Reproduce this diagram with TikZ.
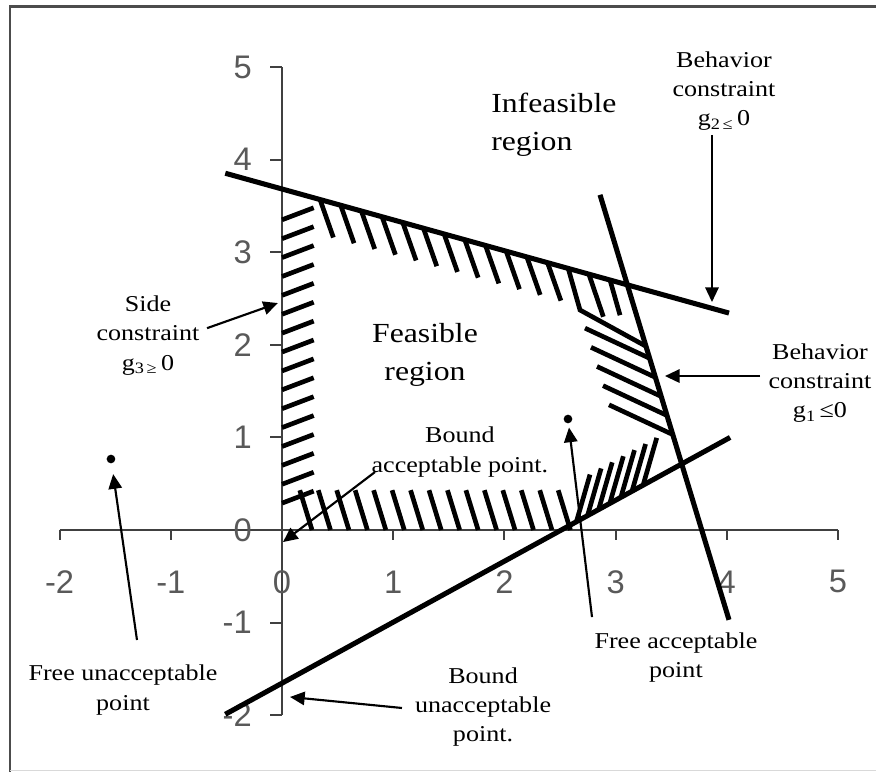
\documentclass[tikz,border=0pt]{standalone}
\usepackage{fontspec}
\setmainfont[FakeStretch=1.15]{Liberation Serif}
\newfontfamily\ticksans{Liberation Sans}
\usetikzlibrary{arrows.meta,calc}

\begin{document}
\begin{tikzpicture}[
  x=83.4pt, y=69.45pt,
  lbl/.style={font=\fontsize{17}{22}\selectfont, align=center, inner sep=0pt},
  region/.style={font=\fontsize{20.7}{28.5}\selectfont, align=center, inner sep=0pt},
  num/.style={font=\ticksans\fontsize{24.5}{27}\selectfont, text=black!65, inner sep=0pt},
  axis/.style={line width=1.5pt, draw=black!75},
  cline/.style={line width=3.8pt},
  hatch/.style={line width=3.5pt},
  arr/.style={-{Triangle[length=11pt,width=10pt]}, line width=1.6pt},
  dot/.style={circle, fill, inner sep=0pt, minimum size=6.5pt},
]
\useasboundingbox (-2.536,-2.613) rectangle (5.342,5.724);
% frame
\draw[line width=2pt, black!70] (-2.446,-2.613) -- (-2.446,5.653) -- (5.342,5.653);
\draw[line width=0.8pt, black!15] (-2.446,-2.6) -- (5.342,-2.6);

% axes and tick labels
\draw[axis] (-2,0) -- (5,0);
\draw[axis] (0,-2) -- (0,5);
\foreach \t in {-2,...,5} {
  \draw[axis] (\t,0) -- ++(0,-0.108);
  \draw[axis] (0,\t) -- ++(-0.11,0);
  \node[num] (xt\t) at (\t,-0.56) {\t};
  \node[num, anchor=east] (yt\t) at (-0.27,\t) {\t};
}

% constraint lines
\coordinate (g2a) at (-0.51,3.853);
\coordinate (g2b) at (4.02,2.343);
\coordinate (g1a) at (2.86,3.62);
\coordinate (g1b) at (4.02,-0.97);
\coordinate (lowa) at (-0.51,-1.99);
\coordinate (lowb) at (4.03,1.0);

% hatching
\foreach \k in {0,...,15}
  \draw[hatch] (0,{0.29+0.204*\k}) -- ++(0.285,0.13);
\foreach \k in {0,...,11}
  \draw[hatch] ({0.342+0.186*\k},{3.683-(0.342+0.186*\k)/3}) -- ++(0.12,-0.41);
\draw[hatch] (2.76,2.763) -- ++(0.13,-0.46);
\draw[hatch] (2.95,2.700) -- ++(0.09,-0.38);
\coordinate (vk) at (2.68,2.376);
\coordinate (vt) at (3.68,1.716);
\draw[hatch] (2.574,2.825) -- (vk) -- (intersection of vk--vt and g1a--g1b);
\foreach \i in {0,...,4} {
  \coordinate (hs) at ({2.725+0.054*\i},{2.18-0.207*\i});
  \coordinate (ht) at ($(hs)+(1,-0.56)$);
  \draw[hatch] (hs) -- (intersection of hs--ht and g1a--g1b);
}
\foreach \k in {0,...,14}
  \draw[hatch] ({0.16+0.166*\k},0.43) -- ++(0.11,-0.43);
\foreach \k in {0,...,6}
  \draw[hatch] ({2.65+0.1*\k},{0.66*(2.65+0.1*\k)-1.65}) -- ++(0.12,0.5);

\draw[cline] (g2a) -- (g2b);
\draw[cline] (g1a) -- (g1b);
\draw[cline] (lowa) -- (lowb);

% labels
\node[region, align=left, anchor=west] (infeas) at (1.88,4.374) {Infeasible\\region};
\node[region] (feas) at (1.286,1.89) {Feasible\\region};
\node[lbl] (side) at (-1.205,2.10) {Side\\constraint\\g\textsubscript{3\,≥}\,0};
\node[lbl] (beh2) at (3.975,4.74) {Behavior\\constraint\\g\textsubscript{2\,≤}\,0};
\node[lbl] (beh1) at (4.838,1.587) {Behavior\\constraint\\g\textsubscript{1}\,≤0};
\node[lbl] (bacc) at (1.60,0.842) {Bound\\acceptable point.};
\node[lbl] (facc) at (3.543,-1.377) {Free acceptable\\point};
\node[lbl] (fbad) at (-1.43,-1.728) {Free unacceptable\\point};
\node[lbl] (bbad) at (1.808,-1.911) {Bound\\unacceptable\\point.};

% points
\node[dot] (ptok) at (2.572,1.199) {};
\node[dot] (ptbad) at (-1.538,0.767) {};

% arrows
\coordinate (sideT) at (-0.674,2.18);
\coordinate (sideH) at (-0.036,2.451);
\coordinate (beh2T) at (3.867,4.266);
\coordinate (beh2H) at (3.867,2.462);
\coordinate (beh1T) at (4.299,1.663);
\coordinate (beh1H) at (3.444,1.663);
\coordinate (baccT) at (0.836,0.626);
\coordinate (baccH) at (0.009,-0.13);
\coordinate (faccT) at (2.788,-0.94);
\coordinate (fbadT) at (-1.304,-1.188);
\coordinate (bbadT) at (1.079,-1.922);
\coordinate (bbadH) at (0.072,-1.803);
\draw[arr] (sideT) -- (sideH);
\draw[arr] (beh2T) -- (beh2H);
\draw[arr] (beh1T) -- (beh1H);
\draw[arr] (baccT) -- (baccH);
\draw[arr, shorten >=3pt] (faccT) -- (ptok);
\draw[arr, shorten >=8pt] (fbadT) -- (ptbad);
\draw[arr] (bbadT) -- (bbadH);
\end{tikzpicture}
\end{document}
